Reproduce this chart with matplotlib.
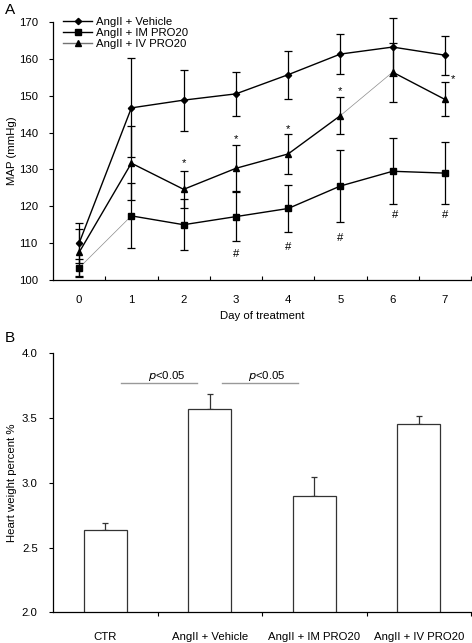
import numpy as np
import matplotlib
matplotlib.use("Agg")
import matplotlib.pyplot as plt
from matplotlib.lines import Line2D

plt.rcParams['font.family'] = ['Liberation Sans', 'DejaVu Sans']

# ---------------- Panel A data ----------------
days = [0, 1, 2, 3, 4, 5, 6, 7]
series_names = ["AngII + Vehicle", "AngII + IM PRO20", "AngII + IV PRO20"]
vehicle_mean = [110.0, 146.7, 148.8, 150.5, 155.7, 161.3, 163.2, 161.0]
vehicle_err = [5.5, 13.4, 8.3, 5.9, 6.5, 5.5, 7.8, 5.3]
im_mean = [103.3, 117.4, 115.0, 117.2, 119.4, 125.5, 129.5, 129.0]
im_err = [2.4, 8.8, 6.9, 6.6, 6.3, 9.7, 9.0, 8.5]
iv_mean = [107.5, 131.7, 124.6, 130.3, 134.2, 144.6, 156.4, 149.0]
iv_err = [6.3, 10.1, 5.1, 6.2, 5.4, 5.1, 8.0, 4.6]
# segments (start index) drawn as thin grey lines
im_thin_segments = [0]
iv_thin_segments = [5]
star_days = [2, 3, 4, 5, 7.15]
star_vals = [130.9, 137.3, 140.0, 150.5, 153.7]
hash_days = [3, 4, 5, 6.05, 7]
hash_vals = [106.3, 108.2, 110.5, 116.8, 116.8]

# ---------------- Panel B data ----------------
groups = ["CTR", "AngII + Vehicle", "AngII + IM PRO20", "AngII + IV PRO20"]
hw_mean = [2.637, 3.571, 2.897, 3.452]
hw_err = [0.055, 0.111, 0.148, 0.067]
sig_pairs = [(0.15, 0.88), (1.12, 1.84)]
sig_text = ["p<0.05", "p<0.05"]

W, H = 472, 643
fig = plt.figure(figsize=(W / 100, H / 100), dpi=100)

FS = 8.2

# ---------------- Panel A ----------------
axA = fig.add_axes([53 / W, 1 - 280 / H, (471 - 53) / W, (280 - 22) / H])
styles = [
    (vehicle_mean, vehicle_err, 'D', 3.2, []),
    (im_mean, im_err, 's', 4.6, im_thin_segments),
    (iv_mean, iv_err, '^', 4.8, iv_thin_segments),
]
for mean, err, mk, ms, thin in styles:
    for i in range(len(days) - 1):
        if i in thin:
            axA.plot(days[i:i + 2], mean[i:i + 2], color='0.55', lw=0.5, zorder=2)
        else:
            axA.plot(days[i:i + 2], mean[i:i + 2], color='black', lw=1.0, zorder=2)
    axA.errorbar(days, mean, yerr=err, fmt=mk, ms=ms, color='black', ecolor='black',
                 elinewidth=0.9, capsize=2.8, capthick=0.9, clip_on=False, zorder=3)

for d, v in zip(star_days, star_vals):
    axA.text(d, v, '*', ha='center', va='baseline', fontsize=FS)
for d, v in zip(hash_days, hash_vals):
    axA.text(d, v, '#', ha='center', va='baseline', fontsize=FS)

axA.set_xlim(-0.5, 7.5)
axA.set_ylim(100, 170)
axA.set_xticks(days)
axA.set_xticklabels([str(d) for d in days], fontsize=FS)
axA.set_xticks(np.arange(0.5, 7.6, 1.0), minor=True)
axA.tick_params(axis='x', which='major', length=0, pad=11)
axA.tick_params(axis='x', which='minor', length=3, direction='in', width=0.8)
axA.set_yticks(np.arange(100, 171, 10))
axA.tick_params(axis='y', which='major', length=3, direction='out', width=0.8, labelsize=FS, pad=8)
for s in ['top', 'right']:
    axA.spines[s].set_visible(False)
for s in ['left', 'bottom']:
    axA.spines[s].set_linewidth(0.9)
axA.set_xlabel('Day of treatment', fontsize=FS, labelpad=4)
axA.set_ylabel('MAP (mmHg)', fontsize=FS)
axA.yaxis.set_label_coords(-36 / (471 - 53), 0.5)

handles = [
    Line2D([], [], color='black', lw=1.0, marker='D', ms=3.2),
    Line2D([], [], color='black', lw=1.0, marker='s', ms=4.6),
    Line2D([], [], color='0.45', lw=1.0, marker='^', ms=4.8, mec='black', mfc='black'),
]
leg = axA.legend(handles, series_names, loc='upper left', bbox_to_anchor=(10 / 418, 1.02),
                 frameon=False, fontsize=FS, handlelength=2.55, handletextpad=0.35,
                 labelspacing=0.1, borderaxespad=0, borderpad=0)

fig.text(5 / W, 1 - 10 / H, 'A', fontsize=11, va='center', ha='left')

# ---------------- Panel B ----------------
axB = fig.add_axes([53 / W, 1 - 612.3 / H, (471 - 53) / W, (612.3 - 353.3) / H])
x = np.arange(len(groups))
axB.bar(x, hw_mean, width=0.41, color='white', edgecolor='#333333', linewidth=0.9, zorder=2)
axB.errorbar(x, hw_mean, yerr=[np.zeros(len(hw_err)), hw_err], fmt='none', ecolor='#333333',
             elinewidth=0.9, capsize=2.4, capthick=0.9, zorder=1)
for (x0, x1), t in zip(sig_pairs, sig_text):
    axB.plot([x0, x1], [3.772, 3.772], color='0.6', lw=1.0)
    axB.text((x0 + x1) / 2 + 0.07, 3.80, r'$\it{p}$<0.05', ha='center', va='baseline', fontsize=FS)

axB.set_xlim(-0.5, 3.5)
axB.set_ylim(2.0, 4.0)
axB.set_xticks(x)
axB.set_xticklabels(groups, fontsize=FS)
axB.set_xticks(np.arange(0.5, 3.6, 1.0), minor=True)
axB.tick_params(axis='x', which='major', length=0, pad=14)
axB.tick_params(axis='x', which='minor', length=3, direction='out', width=0.8)
axB.set_yticks([2.0, 2.5, 3.0, 3.5, 4.0])
axB.set_yticklabels(['2.0', '2.5', '3.0', '3.5', '4.0'])
axB.tick_params(axis='y', which='major', length=3, direction='out', width=0.8, labelsize=FS, pad=8)
for s in ['top', 'right']:
    axB.spines[s].set_visible(False)
for s in ['left', 'bottom']:
    axB.spines[s].set_linewidth(0.9)
axB.set_ylabel('Heart weight percent %', fontsize=FS)
axB.yaxis.set_label_coords(-36 / (471 - 53), 0.5)

fig.text(5 / W, 1 - 338 / H, 'B', fontsize=11, va='center', ha='left')

fig.savefig('out.png', dpi=100)
